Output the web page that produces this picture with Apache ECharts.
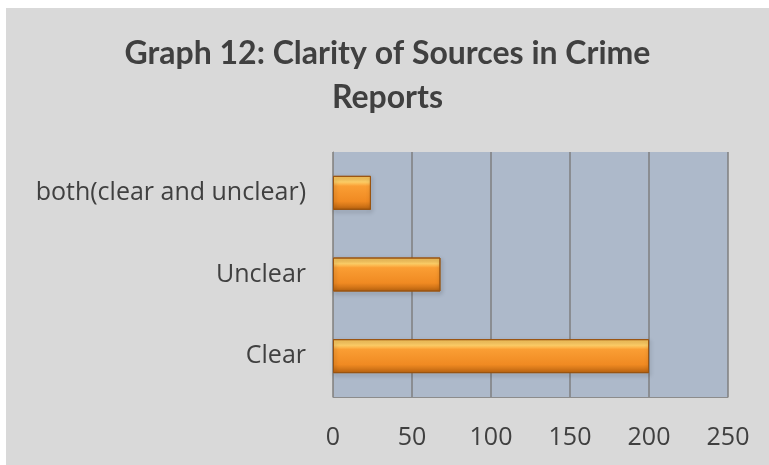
<!DOCTYPE html>
<html>
<head>
<meta charset="utf-8">
<script src="https://cdn.jsdelivr.net/npm/echarts@6/dist/echarts.min.js"></script>
<style>
  html, body { margin: 0; padding: 0; background: #d9d9d9; overflow: hidden; }
  #chart { position: absolute; left: 6px; top: 8px; width: 763px; height: 457px; }
  .strip { position: absolute; background: #ffffff; }
</style>
</head>
<body>
<div class="strip" style="left:0;top:0;width:769px;height:8px"></div>
<div class="strip" style="left:0;top:0;width:6px;height:465px"></div>
<div id="chart"></div>
<script>
// 图表数据
var categories = ["Clear", "Unclear", "both(clear and unclear)"];
var values = [200, 68, 24];
var tickValues = [0, 50, 100, 150, 200, 250];

var myChart = echarts.init(document.getElementById("chart"));

var barColor = new echarts.graphic.LinearGradient(0, 0, 0, 1, [
  { offset: 0, color: "#fbc45a" },
  { offset: 0.18, color: "#ffd068" },
  { offset: 0.3, color: "#fa9e34" },
  { offset: 0.75, color: "#f08a22" },
  { offset: 1, color: "#b8620f" },
]);

var option = {
  backgroundColor: "#d9d9d9",
  title: {
    text: "Graph 12: Clarity of Sources in Crime\nReports",
    left: "center",
    top: 19,
    textStyle: {
      fontFamily: "Lato",
      fontWeight: "bold",
      fontSize: 32,
      lineHeight: 44,
      color: "#404040",
    },
  },
  grid: {
    left: 327,
    right: 41,
    top: 144,
    bottom: 68,
    containLabel: false,
    show: true,
    backgroundColor: "#adb9ca",
    borderWidth: 0,
  },
  xAxis: {
    type: "value",
    min: 0,
    max: 250,
    interval: 50,
    axisLine: { show: true, lineStyle: { color: "#8c8c8c", width: 1 } },
    axisTick: { show: false },
    splitLine: { show: true, lineStyle: { color: "#7f7f7f", width: 1.5 } },
    axisLabel: {
      margin: 28,
      fontFamily: "Open Sans",
      fontSize: 25,
      color: "#404040",
      formatter: function (v) {
        return tickValues.indexOf(v) >= 0 ? String(v) : "";
      },
    },
  },
  yAxis: {
    type: "category",
    data: categories,
    axisLine: { show: true, lineStyle: { color: "#8c8c8c", width: 1 } },
    axisTick: { show: false },
    axisLabel: {
      margin: 27,
      fontFamily: "Open Sans",
      fontSize: 25,
      color: "#404040",
    },
  },
  series: [
    {
      type: "bar",
      data: values,
      barWidth: 34,
      itemStyle: {
        color: barColor,
        borderColor: "#9a5410",
        borderWidth: 1,
        shadowColor: "rgba(0,0,0,0.35)",
        shadowBlur: 4,
        shadowOffsetX: 1,
        shadowOffsetY: 2,
      },
    },
  ],
};

myChart.setOption(option);
</script>
</body>
</html>
